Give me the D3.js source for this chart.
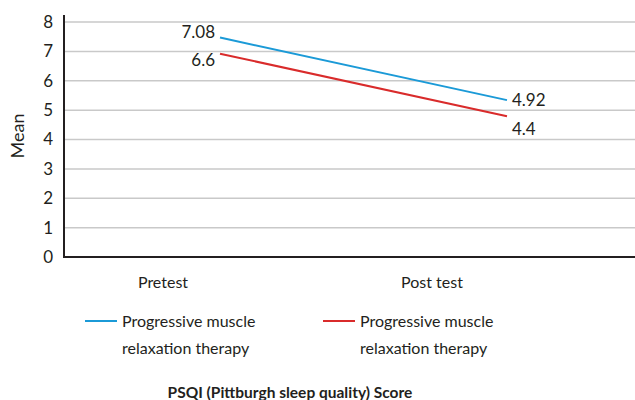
<!DOCTYPE html>
<html>
<head>
<meta charset="utf-8">
<script src="https://cdn.jsdelivr.net/npm/d3@7"></script>
<style>
  body { margin: 0; background: #fff; }
  text { font-family: Lato, "Open Sans", sans-serif; fill: #231f20; }
</style>
</head>
<body>
<svg id="chart" width="635" height="400"></svg>
<script>
// categories + series (line positions as drawn; labels as printed)
const categories = ["Pretest", "Post test"];
const seriesNames = ["Progressive muscle relaxation therapy", "Progressive muscle relaxation therapy"];
const blueValues = [7.47, 5.34];
const redValues = [6.92, 4.79];
const blueLabels = ["7.08", "4.92"];
const redLabels = ["6.6", "4.4"];
const yTicks = [0, 1, 2, 3, 4, 5, 6, 7, 8];

const blue = "#1b9ad7";
const red = "#d92b2b";

const svg = d3.select("#chart");

const plotLeft = 64, plotRight = 635, plotTop = 22, plotBottom = 257;

let y = d3.scaleLinear().domain([0, 8]).range([plotBottom, plotTop]);
// category labels and line ends sit at different x positions in the original
let xLab = d3.scalePoint().domain(categories).range([163, 432]);
let xLine = d3.scalePoint().domain(categories).range([220, 507]);

// gridlines
svg.append("g")
  .selectAll("line")
  .data(yTicks.filter((d) => d > 0))
  .enter()
  .append("line")
  .attr("x1", plotLeft)
  .attr("x2", plotRight)
  .attr("y1", (d) => y(d))
  .attr("y2", (d) => y(d))
  .attr("stroke", "#c9c9c9")
  .attr("stroke-width", 1.5);

// axes
const yAxis = svg.append("g")
  .attr("transform", `translate(${plotLeft},0)`)
  .call(d3.axisLeft(y).tickValues(yTicks).tickSize(0).tickPadding(11));
yAxis.select(".domain").remove();
yAxis.selectAll("text").style("font-size", "17px").attr("fill", "#231f20");

svg.append("line")
  .attr("x1", plotLeft).attr("x2", plotLeft)
  .attr("y1", 15).attr("y2", plotBottom)
  .attr("stroke", "#231f20").attr("stroke-width", 2);
svg.append("line")
  .attr("x1", plotLeft - 1).attr("x2", plotRight)
  .attr("y1", plotBottom).attr("y2", plotBottom)
  .attr("stroke", "#231f20").attr("stroke-width", 2);

// category labels
svg.append("g")
  .selectAll("text")
  .data(categories)
  .enter()
  .append("text")
  .attr("x", (d) => xLab(d))
  .attr("y", 288)
  .attr("text-anchor", "middle")
  .style("font-size", "16px")
  .text((d) => d);

// y title
svg.append("text")
  .attr("transform", "translate(24,136) rotate(-90)")
  .attr("text-anchor", "middle")
  .style("font-size", "18px")
  .text("Mean");

// lines
const line = d3.line()
  .x((d, i) => xLine(categories[i]))
  .y((d) => y(d));

svg.append("path").datum(blueValues)
  .attr("d", line).attr("fill", "none")
  .attr("stroke", blue).attr("stroke-width", 2);
svg.append("path").datum(redValues)
  .attr("d", line).attr("fill", "none")
  .attr("stroke", red).attr("stroke-width", 2);

// data labels
const labelOpts = [
  { labels: blueLabels, values: blueValues, dy: [0, 6] },
  { labels: redLabels, values: redValues, dy: [12, 19] },
];
labelOpts.forEach((s) => {
  s.labels.forEach((lab, i) => {
    svg.append("text")
      .attr("x", i === 0 ? xLine(categories[i]) - 5 : xLine(categories[i]) + 5)
      .attr("y", y(s.values[i]) + s.dy[i])
      .attr("text-anchor", i === 0 ? "end" : "start")
      .style("font-size", "17px")
      .text(lab);
  });
});

// legend
const legendX = [85, 323];
const legend = svg.append("g")
  .selectAll("g")
  .data(seriesNames)
  .enter()
  .append("g")
  .attr("transform", (d, i) => `translate(${legendX[i]},321)`);
legend.append("line")
  .attr("x1", 0).attr("x2", 32)
  .attr("stroke", (d, i) => (i === 0 ? blue : red))
  .attr("stroke-width", 2);
legend.append("text")
  .attr("x", 37).attr("y", 6)
  .style("font-size", "16px")
  .text("Progressive muscle");
legend.append("text")
  .attr("x", 37).attr("y", 33)
  .style("font-size", "16px")
  .text("relaxation therapy");

// bottom title
svg.append("text")
  .attr("x", 290).attr("y", 398)
  .attr("text-anchor", "middle")
  .style("font-size", "15.5px")
  .style("font-weight", "bold")
  .text("PSQI (Pittburgh sleep quality) Score");
</script>
</body>
</html>
